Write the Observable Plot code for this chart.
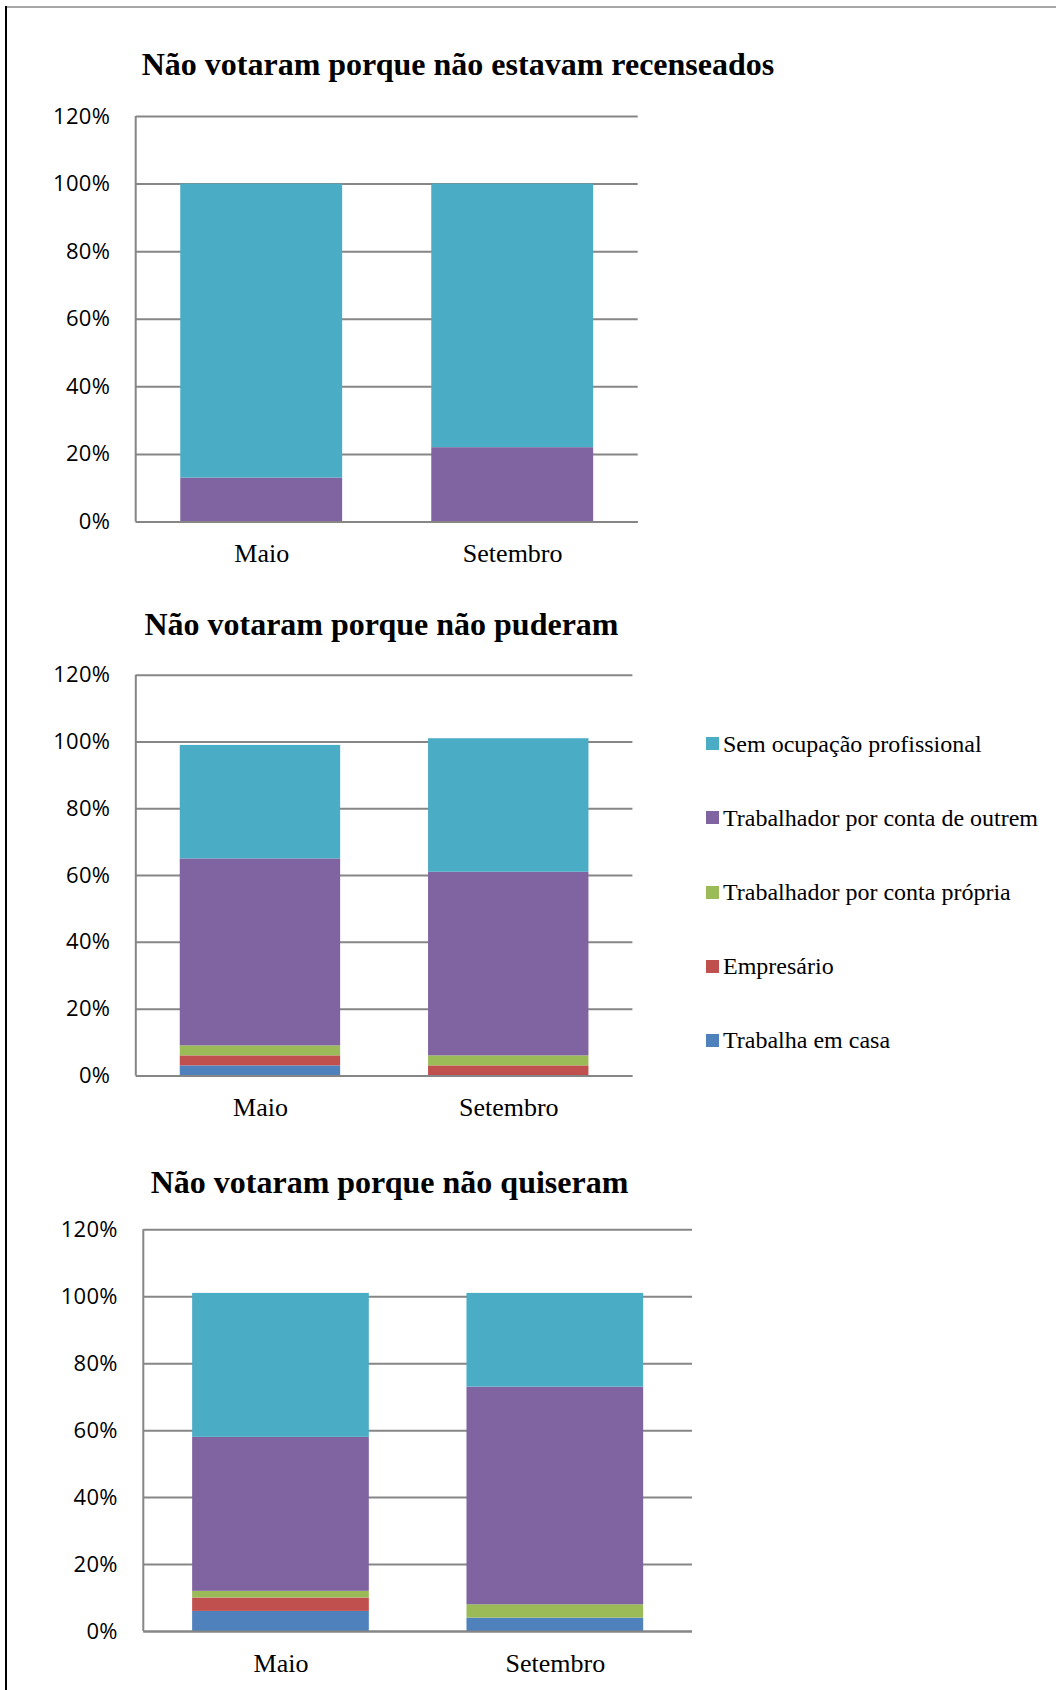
<!DOCTYPE html>
<html>
<head>
<meta charset="utf-8">
<script src="https://cdn.jsdelivr.net/npm/d3@7"></script>
<script src="https://cdn.jsdelivr.net/npm/@observablehq/plot@0.6"></script>
<style>
html, body { margin: 0; padding: 0; background: #fff; }
#page { position: relative; width: 1056px; height: 1690px; overflow: hidden; background: #fff; }
.title { position: absolute; font-family: "Liberation Serif", "Times New Roman", serif; font-weight: bold;
  font-size: 32px; line-height: 32px; white-space: nowrap; color: #000; }
.chart { position: absolute; left: 0; }
.chart svg { overflow: visible; display: block; }
.chart [aria-label="y-axis tick label"] { font-family: "Open Sans", sans-serif; font-size: 22px; letter-spacing: 0.3px; fill: #000; }
.chart [aria-label="x-axis tick label"] { font-family: "Liberation Serif", "Times New Roman", serif; font-size: 26px; fill: #000; }
#legend { position: absolute; left: 706px; top: 0; }
.lrow { position: absolute; left: 0; height: 24px; display: flex; align-items: center; white-space: nowrap;
  font-family: "Liberation Serif", "Times New Roman", serif; font-size: 24px; line-height: 24px; color: #000; }
.sw { width: 13px; height: 13px; margin-right: 4px; flex: none; }
.border-top { position: absolute; left: 6px; top: 6px; width: 1050px; height: 1.5px; background: #a6a6a6; }
.border-left { position: absolute; left: 5px; top: 6px; width: 2px; height: 1684px; background: #000; }
</style>
</head>
<body>
<div id="page">
  <div class="border-top"></div>
  <div class="border-left"></div>
</div>
<script>
// ---- Data ----
const months = ["Maio", "Setembro"];
const categories = [
  "Trabalha em casa",
  "Empresário",
  "Trabalhador por conta própria",
  "Trabalhador por conta de outrem",
  "Sem ocupação profissional"
];
const colors = ["#4F81BD", "#C0504D", "#9BBB59", "#8064A2", "#4BACC6"];
const yTicks = [0, 20, 40, 60, 80, 100, 120];

const titles = [
  "Não votaram porque não estavam recenseados",
  "Não votaram porque não puderam",
  "Não votaram porque não quiseram"
];

// values per category (order as in `categories`), in %
const recenseadosMaio     = [0, 0, 0, 13, 87];
const recenseadosSetembro = [0, 0, 0, 22, 78];
const puderamMaio         = [3, 3, 3, 56, 34];
const puderamSetembro     = [0, 3, 3, 55, 40];
const quiseramMaio        = [6, 4, 2, 46, 43];
const quiseramSetembro    = [4, 0, 4, 65, 28];

// ---- Build ----
const page = document.getElementById("page");

function rowsOf(maio, setembro) {
  const out = [];
  [maio, setembro].forEach((vals, mi) =>
    categories.forEach((c, ci) => out.push({month: months[mi], cat: c, value: vals[ci]})));
  return out;
}

function leftLine(index, scales, values, dims) {
  const l = document.createElementNS("http://www.w3.org/2000/svg", "line");
  l.setAttribute("x1", dims.marginLeft);
  l.setAttribute("x2", dims.marginLeft);
  l.setAttribute("y1", dims.marginTop);
  l.setAttribute("y2", dims.height - dims.marginBottom);
  l.setAttribute("stroke", "#868686");
  l.setAttribute("stroke-width", 2);
  return l;
}

function makeChart(rows, cfg) {
  const svg = Plot.plot({
    width: cfg.width,
    height: cfg.height,
    marginLeft: cfg.ml, marginRight: cfg.mr, marginTop: cfg.mt, marginBottom: cfg.mb,
    x: {domain: months, paddingInner: cfg.pi, paddingOuter: cfg.pi / 2, align: 0.5, round: false, label: null, axis: null},
    y: {domain: [0, 120], label: null, axis: null},
    color: {domain: categories, range: colors},
    style: {background: "transparent", overflow: "visible"},
    marks: [
      Plot.ruleY(yTicks, {stroke: "#868686", strokeWidth: 2}),
      Plot.barY(rows, {x: "month", y: "value", fill: "cat"}),
      Plot.ruleY([0], {stroke: "#868686", strokeWidth: 2}),
      leftLine,
      Plot.axisY({ticks: yTicks, tickSize: 0, tickPadding: 26, tickFormat: d => d + "%", label: null}),
      Plot.axisX({tickSize: 0, tickPadding: 22, label: null})
    ]
  });
  const div = document.createElement("div");
  div.className = "chart";
  div.style.top = cfg.top + "px";
  div.appendChild(svg);
  page.appendChild(div);
}

function addTitle(text, left, baseline) {
  const t = document.createElement("div");
  t.className = "title";
  t.textContent = text;
  t.style.left = left + "px";
  t.style.top = (baseline - 26.8) + "px";
  page.appendChild(t);
}

addTitle(titles[0], 141.7, 75);
addTitle(titles[1], 144.4, 635);
addTitle(titles[2], 150.7, 1192.3);

makeChart(rowsOf(recenseadosMaio, recenseadosSetembro),
  {top: 90, width: 700, height: 500, ml: 135.7, mr: 62.3, mt: 26, mb: 68.5, pi: 0.355});
makeChart(rowsOf(puderamMaio, puderamSetembro),
  {top: 650, width: 700, height: 500, ml: 135.8, mr: 67.6, mt: 24.8, mb: 74.6, pi: 0.354});
makeChart(rowsOf(quiseramMaio, quiseramSetembro),
  {top: 1205, width: 760, height: 485, ml: 143.3, mr: 68, mt: 24.3, mb: 59, pi: 0.356});

// Legend (reverse of stacking order)
const legend = document.createElement("div");
legend.id = "legend";
const legendOrder = categories.map((c, i) => i).reverse();
legendOrder.forEach((ci, k) => {
  const row = document.createElement("div");
  row.className = "lrow";
  row.style.top = (731.6 + k * 74.2) + "px";
  const sw = document.createElement("span");
  sw.className = "sw";
  sw.style.background = colors[ci];
  const tx = document.createElement("span");
  tx.textContent = categories[ci];
  row.appendChild(sw);
  row.appendChild(tx);
  legend.appendChild(row);
});
page.appendChild(legend);
</script>
</body>
</html>
